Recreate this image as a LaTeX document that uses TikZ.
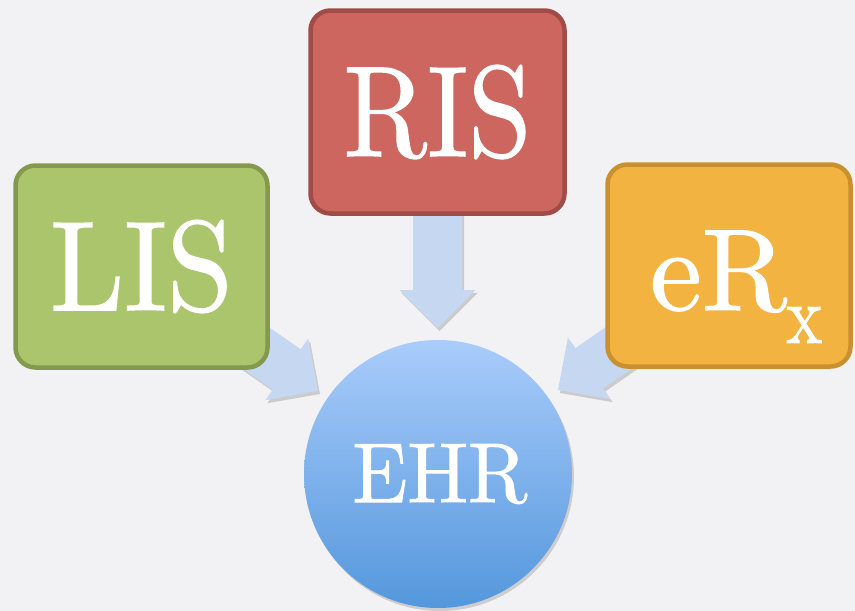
\documentclass[tikz,border=0pt]{standalone}
\usepackage{graphicx}
\usepackage{fontspec}
\newfontfamily\bigserif{lmroman10-regular.otf}[FakeBold=1.1]
\usetikzlibrary{shadows}
\definecolor{bgcol}{HTML}{F2F2F4}
\definecolor{lisfill}{HTML}{ABC56C}
\definecolor{lisline}{HTML}{84994D}
\definecolor{risfill}{HTML}{CC665F}
\definecolor{risline}{HTML}{A04B47}
\definecolor{erxfill}{HTML}{F3B340}
\definecolor{erxline}{HTML}{C8902E}
\definecolor{arrfill}{HTML}{C5D7F1}
\definecolor{ehrtop}{HTML}{A9CCFB}
\definecolor{ehrbot}{HTML}{5497DC}
\begin{document}
\begin{tikzpicture}[x=1pt,y=-1pt,
  box/.style={draw, line width=4.5pt, rounded corners=20pt, inner sep=0pt, text=white},
  blockarr/.style={fill=arrfill, drop shadow={shadow xshift=2pt, shadow yshift=-3pt, opacity=0.16, fill=black}},
  bigfont/.style={font=\bigserif\fontsize{130}{130}\selectfont}]
\useasboundingbox (0,0) rectangle (855,611);
\fill[bgcol] (0,0) rectangle (855,611);

% block arrows (drawn under the boxes)
\begin{scope}[shift={(437.5,328)}, rotate=-90]
  \coordinate (tipris) at (0,0);
  \path[blockarr] (-128,-24.5) -- (-38,-24.5) -- (-38,-38) -- (tipris) -- (-38,38) -- (-38,24.5) -- (-128,24.5) -- cycle;
\end{scope}
\begin{scope}[shift={(318,391)}, rotate=-34.7]
  \coordinate (tiplis) at (0,0);
  \path[blockarr] (-130,-24.5) -- (-38,-24.5) -- (-38,-37.5) -- (tiplis) -- (-38,37.5) -- (-38,24.5) -- (-130,24.5) -- cycle;
\end{scope}
\begin{scope}[shift={(558,390)}, rotate=-145.3]
  \coordinate (tiperx) at (0,0);
  \path[blockarr] (-130,-24.5) -- (-38,-24.5) -- (-38,-37.5) -- (tiperx) -- (-38,37.5) -- (-38,24.5) -- (-130,24.5) -- cycle;
\end{scope}

% boxes
\node[box, draw=lisline, fill=lisfill, minimum width=252pt, minimum height=202pt, bigfont] (lis) at (141.5,266.5) {\resizebox{183pt}{90pt}{LIS}};
\node[box, draw=risline, fill=risfill, minimum width=254pt, minimum height=203pt, bigfont] (ris) at (437.5,112) {\resizebox{188pt}{91pt}{RIS}};
\node[box, draw=erxline, fill=erxfill, minimum width=243pt, minimum height=202pt] (erx) at (729,265.5) {};
\node[anchor=base west, inner sep=0pt, text=white, bigfont] (erxtext) at (650,310) {\resizebox{137pt}{!}{eR}\hspace{-1pt}\raisebox{-33pt}{\resizebox{36pt}{36pt}{x}}};

% EHR circle
\node[circle, minimum size=268pt, inner sep=0pt, top color=ehrtop, bottom color=ehrbot, text=white,
      font=\bigserif\fontsize{85}{85}\selectfont,
      drop shadow={shadow xshift=2pt, shadow yshift=-3pt, opacity=0.15, fill=black}] (ehr) at (438,474) {\hspace{4pt}\resizebox{175pt}{58pt}{EHR}};
\end{tikzpicture}
\end{document}
